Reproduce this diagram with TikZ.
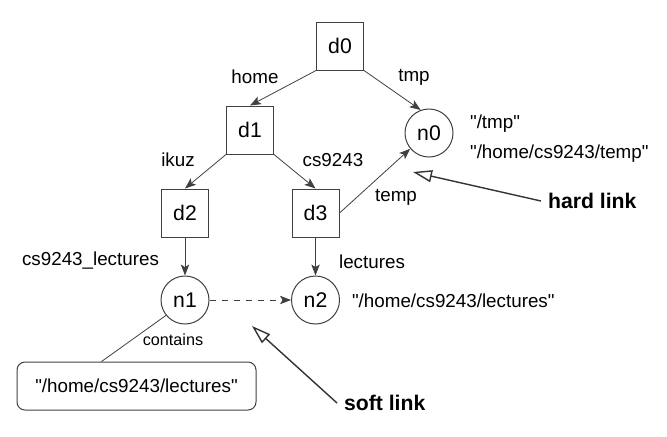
\documentclass[tikz,border=0pt]{standalone}
\usepackage{fontspec}
\setmainfont{Liberation Sans}
\newfontfamily\diagfont{Liberation Sans}
\usetikzlibrary{arrows.meta,positioning,shapes}

\begin{document}
\begin{tikzpicture}[x=0.5pt,y=-0.5pt,every node/.style={font=\diagfont},
  dirbox/.style={draw=black!75,line width=0.5pt,minimum width=23.5pt,minimum height=24pt,inner sep=0pt,font=\diagfont\fontsize{10.6}{12}\selectfont},
  inode/.style={draw=black!75,circle,line width=0.5pt,minimum size=24pt,inner sep=0pt,font=\diagfont\fontsize{10.6}{12}\selectfont},
  lbl/.style={font=\diagfont\fontsize{9.4}{11}\selectfont},
  linktxt/.style={anchor=west,font=\diagfont\fontsize{10.6}{12}\selectfont\bfseries},
  tree/.style={draw=black!75,line width=0.4pt,-{Stealth[length=5.5pt,width=4.2pt,inset=1.3pt]}},
  pointer/.style={draw=black!80,line width=0.7pt,-{Triangle[open,length=9.5pt,width=6pt]}}]
\useasboundingbox (0,0) rectangle (667,436);
\node[dirbox] (d0) at (340,46) {d0};
\node[dirbox] (d1) at (250,130) {d1};
\node[dirbox] (d2) at (185,213) {d2};
\node[dirbox] (d3) at (315.5,213) {d3};
\node[inode] (n0) at (429,133) {n0};
\node[inode] (n1) at (185,300) {n1};
\node[inode] (n2) at (315.5,300) {n2};
\node[draw=black!75,line width=0.5pt,rounded corners=4pt,minimum width=119.5pt,minimum height=24pt,lbl] (path) at (136.5,386) {"/home/cs9243/lectures"};
\draw[tree] (d0.south west) -- (d1.north);
\draw[tree] (d0.south east) -- (n0.110);
\draw[tree] (d1.south west) -- (d2.north);
\draw[tree] (d1.south east) -- (d3.north);
\draw[tree] (d2) -- (n1);
\draw[tree] (d3) -- (n2);
\draw[tree] (d3.east) -- (n0.220);
\draw[tree,dashed] (n1) -- (n2);
\draw[draw=black!75,line width=0.4pt] (n1.219) -- (path.145);
\node[lbl] (lhome) at (255,77) {home};
\node[lbl] (ltmp) at (414,77) {tmp};
\node[lbl] (likuz) at (178,160) {ikuz};
\node[lbl] (lcs) at (333,160) {cs9243};
\node[lbl] (ltemp) at (396,197) {temp};
\node[lbl] (lcsl) at (90.5,261) {cs9243\_lectures};
\node[lbl] (llect) at (372,262) {lectures};
\node[font=\diagfont\fontsize{8.1}{10}\selectfont] (lcont) at (173,340) {contains};
\node[lbl,anchor=west] (ptmp) at (463,124) {"/tmp"};
\node[lbl,anchor=west] (ptemp) at (463,154) {"/home/cs9243/temp"};
\node[lbl,anchor=west] (plect) at (345,301) {"/home/cs9243/lectures"};
\node[linktxt] (hard) at (541,201) {hard link};
\node[linktxt] (soft) at (337,403) {soft link};
\coordinate (hardtip) at (413,172);
\coordinate (softtip) at (252,326);
\draw[pointer] (hard.west) -- (hardtip);
\draw[pointer] (soft.west) -- (softtip);
\end{tikzpicture}
\end{document}
